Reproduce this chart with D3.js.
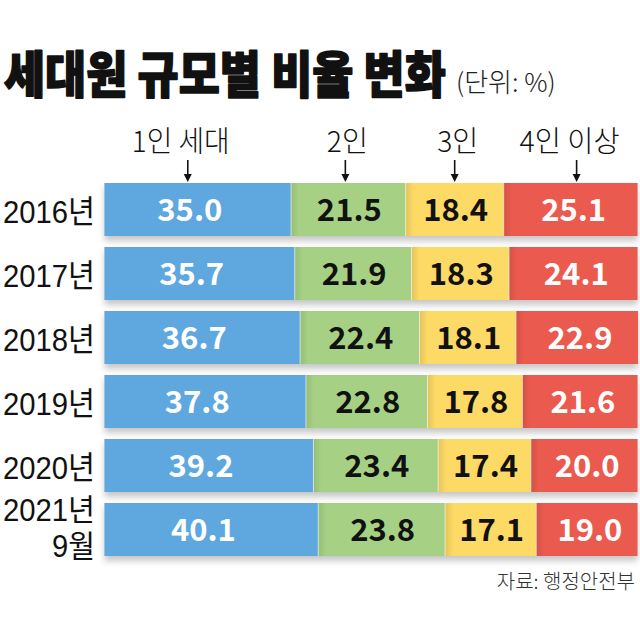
<!DOCTYPE html>
<html><head><meta charset="utf-8">
<script src="https://cdn.jsdelivr.net/npm/d3@7"></script>
<style>
html,body{margin:0;padding:0;background:#fff;}
svg{display:block;font-family:"Noto Sans CJK KR","Noto Sans",sans-serif;}
</style></head>
<body>
<script>
const years = ["2016년","2017년","2018년","2019년","2020년","2021년 9월"];
const categories = ["1인 세대","2인","3인","4인 이상"];
const onePerson = [35.0,35.7,36.7,37.8,39.2,40.1];
const twoPerson = [21.5,21.9,22.4,22.8,23.4,23.8];
const threePerson = [18.4,18.3,18.1,17.8,17.4,17.1];
const fourPlus = [25.1,24.1,22.9,21.6,20.0,19.0];
const colors = ["#5FA8DF","#A6D184","#FDD965","#EB5A4E"];
const textColors = ["#ffffff","#111111","#111111","#ffffff"];
const titleText = "세대원 규모별 비율 변화";
const unitText = "(단위: %)";
const sourceText = "자료: 행정안전부";

const W = 640, H = 618;
const svg = d3.select("body").append("svg").attr("width",W).attr("height",H);

const defs = svg.append("defs");
const f = defs.append("filter").attr("id","sh").attr("x","-5%").attr("y","-20%").attr("width","110%").attr("height","160%");
f.append("feDropShadow").attr("dx",0).attr("dy",5).attr("stdDeviation",3).attr("flood-color","#000").attr("flood-opacity",0.22);
const g1 = defs.append("linearGradient").attr("id","edge").attr("x1",0).attr("x2",1).attr("y1",0).attr("y2",0);
g1.append("stop").attr("offset","0%").attr("stop-color","#000").attr("stop-opacity",0.10);
g1.append("stop").attr("offset","100%").attr("stop-color","#000").attr("stop-opacity",0);

const series = [onePerson,twoPerson,threePerson,fourPlus];
const rows = years.map((y,i)=>{
  let acc = 0;
  const segs = series.map((s,k)=>{const d={k,v:s[i],x0:acc,x1:acc+s[i]}; acc+=s[i]; return d;});
  return {year:y,i,segs};
});

const x = d3.scaleLinear().domain([0,100]).range([104.5,637.5]);
const y = d3.scaleBand().domain(years).range([183,556]).paddingInner(11/64).paddingOuter(0);

// helper: horizontally scale a text to a target width via transform
function fitText(sel, x0, y0, target, anchor){
  const w = sel.node().getComputedTextLength();
  const s = Math.min(1, target / w);
  sel.attr("x",0).attr("y",0).attr("text-anchor",anchor||"start")
     .attr("transform",`translate(${x0},${y0}) scale(${s},1)`);
  return sel;
}

// title
const title = svg.append("text").attr("font-size",50).attr("font-weight",900)
  .attr("fill","#111").attr("stroke","#111").attr("stroke-width",1.6).attr("stroke-linejoin","round").text(titleText);
fitText(title, 4, 93, 442);
const unit = svg.append("text").attr("font-size",26).attr("font-weight",300).attr("fill","#222").text(unitText);
fitText(unit, 456, 92, 107);

// headers and arrows, placed over first row's segments
const hdrOffset = [-17,-1,3,-1];
const arrOffset = [-10,-3,0,6];
const hdrLen = [98,41,41,100];
const first = rows[0].segs;
categories.forEach((c,k)=>{
  const cx = x((first[k].x0+first[k].x1)/2);
  const t = svg.append("text").attr("font-size",29).attr("font-weight",300).attr("fill","#111").text(c);
  fitText(t, cx+hdrOffset[k], 152, hdrLen[k], "middle");
  const ax = cx+arrOffset[k];
  svg.append("line").attr("x1",ax).attr("x2",ax).attr("y1",160).attr("y2",176).attr("stroke","#111").attr("stroke-width",1.6);
  svg.append("path").attr("d",`M${ax-4},${174}L${ax+4},${174}L${ax},${182}Z`).attr("fill","#111");
});

// bars
const rowG = svg.selectAll("g.row").data(rows).join("g").attr("class","row");
rowG.append("rect").attr("x",x(0)).attr("y",d=>y(d.year)).attr("width",x(100)-x(0)).attr("height",y.bandwidth())
  .attr("fill","#ccc").attr("filter","url(#sh)");
rowG.each(function(r){
  const g = d3.select(this);
  g.selectAll("rect.seg").data(r.segs).join("rect").attr("class","seg")
    .attr("x",d=>x(d.x0)).attr("y",y(r.year)).attr("width",d=>x(d.x1)-x(d.x0)).attr("height",y.bandwidth())
    .attr("fill",d=>colors[d.k]);
  g.selectAll("rect.edge").data(r.segs.filter(d=>d.k>0)).join("rect").attr("class","edge")
    .attr("x",d=>x(d.x0)).attr("y",y(r.year)).attr("width",8).attr("height",y.bandwidth())
    .attr("fill","url(#edge)");
  g.selectAll("line.sep").data(r.segs.filter(d=>d.k>0)).join("line").attr("class","sep")
    .attr("x1",d=>x(d.x0)).attr("x2",d=>x(d.x0)).attr("y1",y(r.year)).attr("y2",y(r.year)+y.bandwidth())
    .attr("stroke","#fff").attr("stroke-opacity",0.6).attr("stroke-width",1);
  g.selectAll("text.val").data(r.segs).join("text").attr("class","val")
    .attr("x",d=>(x(d.x0)+x(d.x1))/2 + (d.k===0?-8:(d.k===3?3:1)))
    .attr("y",y(r.year)+y.bandwidth()/2+11.5).attr("text-anchor","middle")
    .attr("font-size",31).attr("font-weight",700).attr("fill",d=>textColors[d.k])
    .text(d=>d.v.toFixed(1));
});

// row labels
const labelFont = '"Liberation Sans","Noto Sans CJK KR",sans-serif';
rows.forEach(r=>{
  const parts = r.year.split(" ");
  const cy = y(r.year)+y.bandwidth()/2;
  if(parts.length===1){
    const t = svg.append("text").attr("font-family",labelFont).attr("font-size",32).attr("fill","#111").text(parts[0]);
    fitText(t, 95, cy+13, 92, "end");
  } else {
    const t1 = svg.append("text").attr("font-family",labelFont).attr("font-size",31).attr("fill","#111").text(parts[0]);
    fitText(t1, 95, cy-9, 92, "end");
    const t2 = svg.append("text").attr("font-family",labelFont).attr("font-size",31).attr("fill","#111").text(parts[1]);
    fitText(t2, 95, cy+27, 43, "end");
  }
});

// source
const src = svg.append("text").attr("font-size",20).attr("font-weight",300).attr("fill","#333").text(sourceText);
fitText(src, 635, 589, 140, "end");
</script>
</body></html>
